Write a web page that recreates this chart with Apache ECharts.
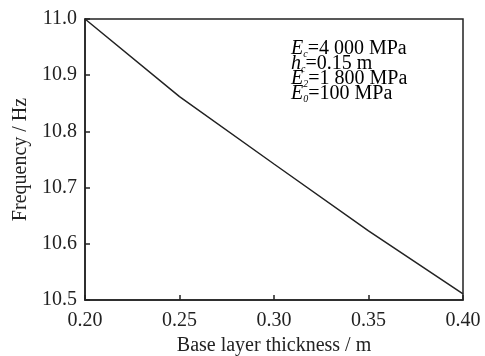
<!DOCTYPE html>
<html><head><meta charset="utf-8">
<script src="https://cdn.jsdelivr.net/npm/echarts@6/dist/echarts.min.js"></script>
<style>html,body{margin:0;padding:0;background:#fff}#c{width:485px;height:356px}</style>
</head><body><div id="c"></div>
<script>
const thickness = [0.20, 0.25, 0.30, 0.35, 0.40];
const frequency = [11.0, 10.862, 10.742, 10.623, 10.511];
const xTitle = 'Base layer thickness / m';
const yTitle = 'Frequency / Hz';
const notes = [
  ['E', 'c', '=4 000 MPa'],
  ['h', 'c', '=0.15 m'],
  ['E', '2', '=1 800 MPa'],
  ['E', '0', '=100 MPa']
];
const FONT = '"Liberation Serif","Times New Roman",serif';
const chart = echarts.init(document.getElementById('c'), null, {renderer: 'canvas'});
const rich = {
  i: {fontFamily: FONT, fontStyle: 'italic', fontSize: 20, color: '#222', verticalAlign: 'top', lineHeight: 20},
  s: {fontFamily: FONT, fontStyle: 'italic', fontSize: 10, color: '#222', verticalAlign: 'bottom', lineHeight: 10, padding: [10, 0, 0, 0]},
  n: {fontFamily: FONT, fontSize: 20, color: '#222', verticalAlign: 'top', lineHeight: 20}
};
const graphics = notes.map((n, k) => ({
  type: 'text', left: 291, top: 39 + k * 15,
  style: {text: '{i|' + n[0] + '}{s|' + n[1] + '}{n|' + n[2] + '}', rich: rich}
}));
chart.setOption({
  animation: false,
  backgroundColor: '#fff',
  grid: {left: 85, right: 22, top: 19, bottom: 56, containLabel: false, outerBoundsMode: 'none',
    show: true, borderColor: '#222', borderWidth: 1.5, backgroundColor: 'transparent'},
  xAxis: {
    type: 'value', min: 0.2, max: 0.4, interval: 0.05,
    name: xTitle, nameLocation: 'middle', nameGap: 36,
    nameTextStyle: {fontFamily: FONT, fontSize: 20, color: '#222'},
    axisLine: {show: true, lineStyle: {color: '#222', width: 1.5}},
    axisTick: {show: true, inside: true, length: 5, lineStyle: {color: '#222', width: 1.5}},
    axisLabel: {fontFamily: FONT, fontSize: 20, color: '#222', margin: 11, formatter: v => v.toFixed(2)},
    splitLine: {show: false}
  },
  yAxis: {
    type: 'value', min: 10.5, max: 11.0, interval: 0.1,
    name: yTitle, nameLocation: 'middle', nameGap: 50, nameRotate: 90,
    nameTextStyle: {fontFamily: FONT, fontSize: 20, color: '#222'},
    axisLine: {show: true, lineStyle: {color: '#222', width: 1.5}},
    axisTick: {show: true, inside: true, length: 5, lineStyle: {color: '#222', width: 1.5}},
    axisLabel: {fontFamily: FONT, fontSize: 20, color: '#222', margin: 8, formatter: v => v.toFixed(1)},
    splitLine: {show: false}
  },
  series: [{
    type: 'line', data: thickness.map((x, i) => [x, frequency[i]]),
    showSymbol: false, lineStyle: {color: '#222', width: 1.5}
  }],
  graphic: graphics
});
</script></body></html>
